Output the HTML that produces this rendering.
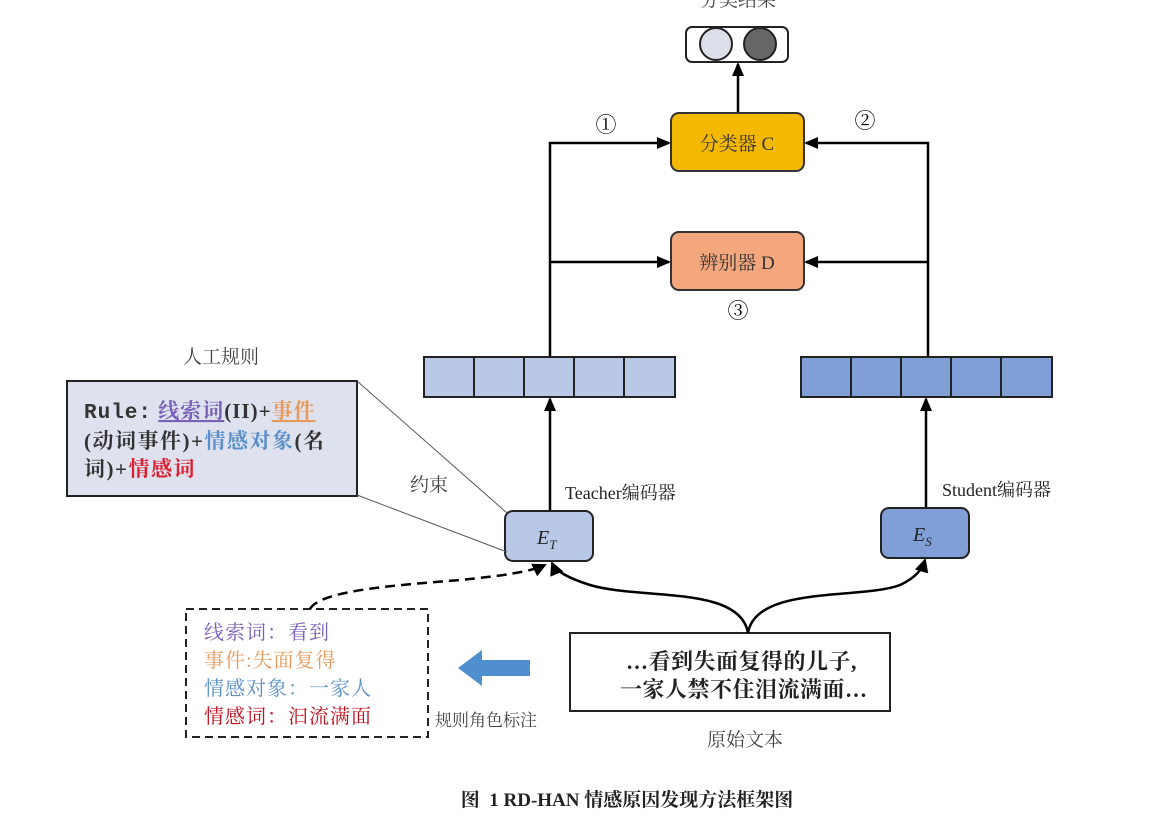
<!DOCTYPE html>
<html><head><meta charset="utf-8"><style>
html,body{margin:0;padding:0;background:#fff;}
svg{display:block;}
text{font-family:"Liberation Serif","Noto Serif CJK SC","Noto Sans CJK SC",serif;}
</style></head><body>
<svg width="1161" height="819" viewBox="0 0 1161 819" xmlns="http://www.w3.org/2000/svg">
<defs>
<marker id="ah" markerWidth="14" markerHeight="14" refX="12" refY="6" orient="auto" markerUnits="userSpaceOnUse"><path d="M0,0 L14,6 L0,12 z" fill="#000"/></marker>
<marker id="ah2" markerWidth="14" markerHeight="14" refX="12" refY="7" orient="auto" markerUnits="userSpaceOnUse"><path d="M0,0 L14,7 L0,14 z" fill="#000"/></marker>
</defs>

<text x="738" y="6" font-size="19" text-anchor="middle" fill="#444">分类结果</text>
<rect x="686" y="27" width="102" height="35" rx="6" fill="#fff" stroke="#222" stroke-width="2"/>
<circle cx="716" cy="44" r="16" fill="#dde0ea" stroke="#222" stroke-width="2"/>
<circle cx="760" cy="44" r="16" fill="#666" stroke="#222" stroke-width="2"/>
<line x1="738" y1="113" x2="738" y2="64" stroke="#000" stroke-width="2.5" marker-end="url(#ah)"/>

<rect x="671" y="113" width="133" height="58" rx="8" fill="#f5b800" stroke="#333" stroke-width="2"/>
<text x="737" y="150" font-size="19" text-anchor="middle" fill="#333">分类器 C</text>
<rect x="671" y="232" width="133" height="58" rx="8" fill="#f4a77d" stroke="#333" stroke-width="2"/>
<text x="737" y="269" font-size="19" text-anchor="middle" fill="#333">辨别器 D</text>

<polyline points="550,357 550,143 669,143" fill="none" stroke="#000" stroke-width="2.5" marker-end="url(#ah)"/>
<line x1="550" y1="262" x2="669" y2="262" stroke="#000" stroke-width="2.5" marker-end="url(#ah)"/>
<polyline points="928,357 928,143 806,143" fill="none" stroke="#000" stroke-width="2.5" marker-end="url(#ah)"/>
<line x1="928" y1="262" x2="806" y2="262" stroke="#000" stroke-width="2.5" marker-end="url(#ah)"/>
<text x="606" y="132" font-size="21" text-anchor="middle">①</text>
<text x="865" y="128" font-size="21" text-anchor="middle">②</text>
<text x="738" y="318" font-size="21" text-anchor="middle">③</text>

<g stroke="#222" stroke-width="2" fill="#b8c8e6">
<rect x="424" y="357" width="50" height="40"/><rect x="474" y="357" width="50" height="40"/><rect x="524" y="357" width="50" height="40"/><rect x="574" y="357" width="50" height="40"/><rect x="624" y="357" width="51" height="40"/>
</g>
<g stroke="#222" stroke-width="2" fill="#7f9fd6">
<rect x="801" y="357" width="50" height="40"/><rect x="851" y="357" width="50" height="40"/><rect x="901" y="357" width="50" height="40"/><rect x="951" y="357" width="50" height="40"/><rect x="1001" y="357" width="51" height="40"/>
</g>
<line x1="550" y1="511" x2="550" y2="399" stroke="#000" stroke-width="2.5" marker-end="url(#ah)"/>
<line x1="926" y1="508" x2="926" y2="399" stroke="#000" stroke-width="2.5" marker-end="url(#ah)"/>

<rect x="505" y="511" width="88" height="50" rx="8" fill="#b8c8e6" stroke="#222" stroke-width="2"/>
<text x="537" y="544" font-size="20" font-style="italic" fill="#222">E<tspan font-size="13" dy="5">T</tspan></text>
<rect x="881" y="508" width="88" height="50" rx="8" fill="#7f9fd6" stroke="#222" stroke-width="2"/>
<text x="913" y="541" font-size="20" font-style="italic" fill="#222">E<tspan font-size="13" dy="5">S</tspan></text>
<text x="565" y="499" font-size="18" fill="#222">Teacher编码器</text>
<text x="942" y="496" font-size="18" fill="#222">Student编码器</text>

<text x="221" y="363" font-size="19" text-anchor="middle" fill="#444">人工规则</text>
<rect x="67" y="381" width="290" height="115" fill="#dde2ee" stroke="#222" stroke-width="2"/>
<text x="84" y="418" font-size="21" font-weight="bold" fill="#333" letter-spacing="1"><tspan font-family="Liberation Mono">Rule:</tspan> <tspan fill="#7a5fb8" text-decoration="underline">线索词</tspan>(II)+<tspan fill="#e89a5c" text-decoration="underline">事件</tspan></text>
<text x="84" y="448" font-size="21" font-weight="bold" fill="#333" letter-spacing="1.5">(动词事件)+<tspan fill="#5b8fc8">情感对象</tspan>(名</text>
<text x="84" y="476" font-size="21" font-weight="bold" fill="#333" letter-spacing="1.5">词)+<tspan fill="#e02030">情感词</tspan></text>
<line x1="357" y1="381" x2="507" y2="513" stroke="#555" stroke-width="1"/>
<line x1="357" y1="495" x2="507" y2="552" stroke="#555" stroke-width="1"/>
<text x="410" y="491" font-size="19" fill="#444">约束</text>

<rect x="570" y="633" width="320" height="78" fill="#fff" stroke="#222" stroke-width="2"/>
<text x="626" y="669" font-size="22" font-weight="bold" fill="#222" letter-spacing="0.5">…看到失面复得的儿子,</text>
<text x="620" y="697" font-size="22" font-weight="bold" fill="#222" letter-spacing="0.5">一家人禁不住泪流满面…</text>
<text x="745" y="746" font-size="19" text-anchor="middle" fill="#444">原始文本</text>
<path d="M748,633 C740,585 640,600 590,585 C565,577 555,570 552,563" fill="none" stroke="#000" stroke-width="2.5" marker-end="url(#ah2)"/>
<path d="M748,633 C756,585 860,600 900,585 C915,578 922,570 925,560" fill="none" stroke="#000" stroke-width="2.5" marker-end="url(#ah2)"/>

<rect x="186" y="609" width="242" height="128" fill="none" stroke="#222" stroke-width="2" stroke-dasharray="8,5"/>
<path d="M310,609 C320,590 400,585 460,580 C500,576 530,572 545,565" fill="none" stroke="#000" stroke-width="2.5" stroke-dasharray="10,6" marker-end="url(#ah2)"/>
<text x="204" y="639" font-size="20" fill="#7a5fb8" letter-spacing="1">线索词：看到</text>
<text x="204" y="667" font-size="20" fill="#e89a5c" letter-spacing="1">事件:失面复得</text>
<text x="204" y="695" font-size="20" fill="#5b8fc8" letter-spacing="1">情感对象：一家人</text>
<text x="204" y="723" font-size="20" fill="#c0101e" letter-spacing="1">情感词：汩流满面</text>
<path d="M530,660 L482,660 L482,650 L458,668 L482,686 L482,676 L530,676 z" fill="#4f8fd0"/>
<text x="435" y="726" font-size="17" fill="#444">规则角色标注</text>

<text x="627" y="806" font-size="19" font-weight="bold" text-anchor="middle" fill="#222" xml:space="preserve">图  1 RD-HAN 情感原因发现方法框架图</text>
</svg>
</body></html>
